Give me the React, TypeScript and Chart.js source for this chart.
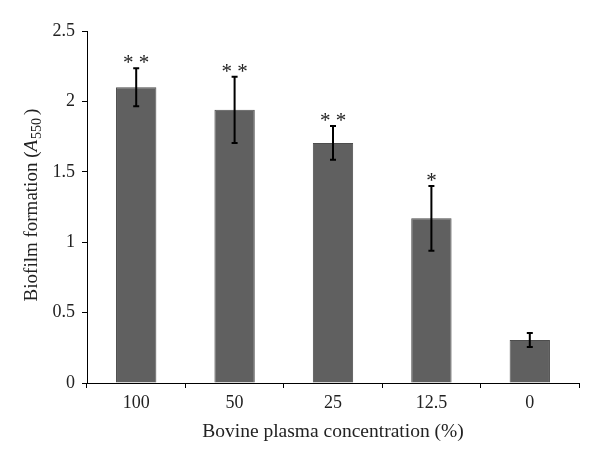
import React, { useEffect, useRef } from "react";
import { Chart, registerables } from "chart.js";

Chart.register(...registerables);

const categories = ["100", "50", "25", "12.5", "0"];
const values = [2.1, 1.94, 1.705, 1.17, 0.305];
const errors = [0.135, 0.235, 0.12, 0.23, 0.05];
const significance = ["**", "**", "**", "*", ""];
const yTicks = [0, 0.5, 1, 1.5, 2, 2.5];
const xTitle = "Bovine plasma concentration (%)";
const yTitleMain = "Biofilm formation (";
const yTitleVar = "A";
const yTitleSub = "550";
const yTitleEnd = ")";

const FONT = "'Liberation Serif', 'Times New Roman', serif";

const overlayPlugin = {
  id: "overlay",
  afterDatasetsDraw(chart: any) {
    const ctx = chart.ctx;
    const xs = chart.scales.x;
    const ys = chart.scales.y;
    ctx.save();
    ctx.strokeStyle = "#000";
    ctx.lineWidth = 2;
    values.forEach((v, i) => {
      const x = xs.getPixelForValue(i);
      const yt = ys.getPixelForValue(v + errors[i]);
      const yb = ys.getPixelForValue(v - errors[i]);
      ctx.beginPath();
      ctx.moveTo(x, yt);
      ctx.lineTo(x, yb);
      ctx.moveTo(x - 3, yt);
      ctx.lineTo(x + 3, yt);
      ctx.moveTo(x - 3, yb);
      ctx.lineTo(x + 3, yb);
      ctx.stroke();
      if (significance[i]) {
        ctx.fillStyle = "#222";
        ctx.font = `21px ${FONT}`;
        ctx.textAlign = "center";
        ctx.textBaseline = "alphabetic";
        const txt = significance[i].split("").join(" ");
        ctx.fillText(txt, x, yt + 1);
      }
    });
    ctx.fillStyle = "#222";
    ctx.font = `19.5px ${FONT}`;
    ctx.textAlign = "center";
    ctx.textBaseline = "middle";
    ctx.fillText(xTitle, (chart.chartArea.left + chart.chartArea.right) / 2, 432);
    ctx.translate(32, 205);
    ctx.rotate(-Math.PI / 2);
    ctx.textBaseline = "middle";
    ctx.textAlign = "left";
    const fMain = `19px ${FONT}`;
    const fVar = `italic 19px ${FONT}`;
    const fSub = `14px ${FONT}`;
    ctx.font = fMain;
    const w1 = ctx.measureText(yTitleMain).width;
    ctx.font = fVar;
    const w2 = ctx.measureText(yTitleVar).width;
    ctx.font = fSub;
    const w3 = ctx.measureText(yTitleSub).width;
    ctx.font = fMain;
    const w4 = ctx.measureText(yTitleEnd).width;
    const total = w1 + w2 + w3 + w4 + 4;
    let cx = -total / 2;
    ctx.font = fMain;
    ctx.fillText(yTitleMain, cx, 0);
    cx += w1;
    ctx.font = fVar;
    ctx.fillText(yTitleVar, cx, 0);
    cx += w2 + 1;
    ctx.font = fSub;
    ctx.fillText(yTitleSub, cx, 5);
    cx += w3 + 3;
    ctx.font = fMain;
    ctx.fillText(yTitleEnd, cx, 0);
    ctx.restore();
  },
};

export default function App() {
  const ref = useRef<HTMLCanvasElement>(null);
  useEffect(() => {
    if (!ref.current) return;
    const chart = new Chart(ref.current, {
      type: "bar",
      data: {
        labels: categories,
        datasets: [
          {
            data: values,
            backgroundColor: "#606060",
            borderColor: "#4d4d4d",
            borderWidth: 1,
            categoryPercentage: 1,
            barPercentage: 0.41,
          },
        ],
      },
      options: {
        animation: false,
        responsive: false,
        maintainAspectRatio: false,
        layout: { padding: { left: 0, right: 21, top: 31, bottom: 0 } },
        plugins: { legend: { display: false }, tooltip: { enabled: false } },
        scales: {
          x: {
            grid: { drawOnChartArea: false, drawTicks: true, tickLength: 5, color: "#000", offset: true },
            border: { color: "#000", width: 1 },
            ticks: { color: "#222", font: { family: FONT, size: 18 }, padding: 4 },
            afterFit(scale: any) {
              scale.height = 82;
            },
          },
          y: {
            min: 0,
            max: 2.5,
            afterBuildTicks(scale: any) {
              scale.ticks = yTicks.map((v) => ({ value: v }));
            },
            grid: { drawOnChartArea: false, drawTicks: true, tickLength: 5, color: "#000" },
            border: { color: "#000", width: 1 },
            ticks: {
              color: "#222",
              font: { family: FONT, size: 18 },
              padding: 7,
              callback: (v: any) => String(v),
            },
            afterFit(scale: any) {
              scale.width = 87;
            },
          },
        },
      },
      plugins: [overlayPlugin],
    });
    return () => chart.destroy();
  }, []);
  return (
    <div style={{ position: "absolute", left: 0, top: 0, width: 600, height: 465, background: "#fff" }}>
      <canvas ref={ref} width={600} height={465} />
    </div>
  );
}
